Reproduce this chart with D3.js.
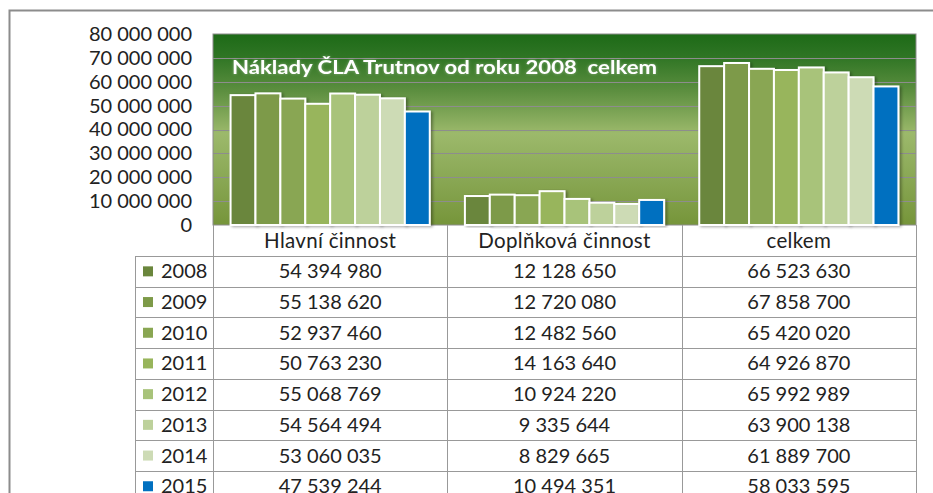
<!DOCTYPE html>
<html>
<head>
<meta charset="utf-8">
<script src="https://cdn.jsdelivr.net/npm/d3@7"></script>
<style>
  body { margin: 0; background: #fff; }
  text { font-family: Lato, "Open Sans", sans-serif; }
</style>
</head>
<body>
<div id="chart"></div>
<script>
// chart data
var categories = ["Hlavní činnost", "Doplňková činnost", "celkem"];
var years = ["2008", "2009", "2010", "2011", "2012", "2013", "2014", "2015"];
var hlavni = [54394980, 55138620, 52937460, 50763230, 55068769, 54564494, 53060035, 47539244];
var doplnkova = [12128650, 12720080, 12482560, 14163640, 10924220, 9335644, 8829665, 10494351];
var celkem = [66523630, 67858700, 65420020, 64926870, 65992989, 63900138, 61889700, 58033595];
var yTicks = [0, 10000000, 20000000, 30000000, 40000000, 50000000, 60000000, 70000000, 80000000];
var colors = ["#6a863c", "#7d9a48", "#89a652", "#98b55b", "#a8c37a", "#bdd19b", "#cddbb5", "#0070c0"];
var title = "Náklady ČLA Trutnov od roku 2008  celkem";

var width = 933;
var height = 493;
var series = [hlavni, doplnkova, celkem];

var svg = d3.select("#chart")
    .append("svg")
    .attr("width", width)
    .attr("height", height);

var defs = svg.append("defs");
var grad = defs.append("linearGradient")
    .attr("id", "bg")
    .attr("x1", 0).attr("y1", 0).attr("x2", 0).attr("y2", 1);
grad.append("stop").attr("offset", "0%").attr("stop-color", "#1d6a17");
grad.append("stop").attr("offset", "12%").attr("stop-color", "#2f7524");
grad.append("stop").attr("offset", "30%").attr("stop-color", "#5d8f40");
grad.append("stop").attr("offset", "52%").attr("stop-color", "#9cb96b");
grad.append("stop").attr("offset", "75%").attr("stop-color", "#8aa855");
grad.append("stop").attr("offset", "100%").attr("stop-color", "#76953a");

var shadow = defs.append("filter").attr("id", "shadow")
    .attr("x", "-20%").attr("y", "-5%").attr("width", "150%").attr("height", "115%");
shadow.append("feDropShadow")
    .attr("dx", 2).attr("dy", 1).attr("stdDeviation", 1.5)
    .attr("flood-color", "#000").attr("flood-opacity", 0.35);

var glow = defs.append("filter").attr("id", "glow")
    .attr("x", "-5%").attr("y", "-30%").attr("width", "110%").attr("height", "160%");
glow.append("feDropShadow")
    .attr("dx", 0).attr("dy", 0).attr("stdDeviation", 1.5)
    .attr("flood-color", "#fff").attr("flood-opacity", 0.35);

// outer frame
svg.append("path")
    .attr("d", "M9.5," + height + "V10.5H" + width)
    .style("fill", "none")
    .style("stroke", "#8c8c8c")
    .style("stroke-width", 2);

var x0 = 213, x1 = 916;
var y = d3.scaleLinear().domain([0, 80000000]).range([225, 34]);

var xCat = d3.scaleBand()
    .domain(categories)
    .range([x0, x1])
    .paddingInner(0.15)
    .paddingOuter(0.075);

var xYear = d3.scaleBand()
    .domain(years)
    .range([0, xCat.bandwidth()]);

// plot background
svg.append("rect")
    .attr("x", x0)
    .attr("y", y(80000000))
    .attr("width", x1 - x0)
    .attr("height", y(0) - y(80000000))
    .style("fill", "url(#bg)")
    .style("stroke", "#8c8c8c")
    .style("stroke-width", 1);

// grid
svg.append("g")
    .selectAll("line")
    .data(yTicks.slice(1, -1))
    .enter().append("line")
    .attr("x1", x0)
    .attr("x2", x1)
    .attr("y1", function(d) { return Math.round(y(d)) + 0.5; })
    .attr("y2", function(d) { return Math.round(y(d)) + 0.5; })
    .style("stroke", "#8d8d8d")
    .style("stroke-width", 1);

// y axis labels
var yAxis = d3.axisLeft(y)
    .tickValues(yTicks)
    .tickSize(0)
    .tickFormat(function(d) { return d3.format(",")(d).replace(/,/g, " "); });

var yg = svg.append("g")
    .attr("transform", "translate(192,0)")
    .call(yAxis);
yg.select(".domain").remove();
yg.selectAll("text")
    .attr("x", 0)
    .style("font-size", "20px")
    .style("fill", "#222")
    .style("font-family", "Lato, sans-serif");

// title
svg.append("text")
    .attr("x", 232)
    .attr("y", 74)
    .attr("textLength", 425)
    .attr("lengthAdjust", "spacingAndGlyphs")
    .attr("filter", "url(#glow)")
    .style("font-size", "19.5px")
    .style("font-weight", "bold")
    .style("fill", "#fff")
    .style("white-space", "pre")
    .attr("xml:space", "preserve")
    .text(title);

// bars
var groups = svg.append("g")
    .selectAll("g")
    .data(categories)
    .enter().append("g")
    .attr("transform", function(d) { return "translate(" + xCat(d) + ",0)"; });

groups.selectAll("rect")
    .data(function(d, i) {
        return years.map(function(yr, j) { return { year: yr, value: series[i][j], idx: j }; });
    })
    .enter().append("rect")
    .attr("x", function(d) { return xYear(d.year); })
    .attr("y", function(d) { return y(d.value); })
    .attr("width", xYear.bandwidth())
    .attr("height", function(d) { return y(0) - y(d.value); })
    .style("fill", function(d) { return colors[d.idx]; })
    .style("stroke", "#fff")
    .style("stroke-width", 2)
    .attr("filter", "url(#shadow)");

// data table
var headerTop = 225;
var headerH = 31;
var rowH = 30.7;
var legendX = 135;
var colEdges = [x0].concat(categories.map(function(c, i) { return x0 + (x1 - x0) / 3 * (i + 1); }));
var table = svg.append("g");
var tableBottom = headerTop + headerH + rowH * years.length;

// vertical lines
colEdges.forEach(function(cx) {
    table.append("line")
        .attr("x1", Math.round(cx) + 0.5).attr("x2", Math.round(cx) + 0.5)
        .attr("y1", headerTop).attr("y2", tableBottom)
        .style("stroke", "#999").style("stroke-width", 1);
});
table.append("line")
    .attr("x1", legendX + 0.5).attr("x2", legendX + 0.5)
    .attr("y1", headerTop + headerH).attr("y2", tableBottom)
    .style("stroke", "#999").style("stroke-width", 1);

// horizontal lines
d3.range(years.length + 1).forEach(function(i) {
    var ly = Math.round(headerTop + headerH + rowH * i) + 0.5;
    table.append("line")
        .attr("x1", legendX).attr("x2", x1 + 0.5)
        .attr("y1", ly).attr("y2", ly)
        .style("stroke", "#999").style("stroke-width", 1);
});

// header text
table.selectAll("text.head")
    .data(categories)
    .enter().append("text")
    .attr("class", "head")
    .attr("x", function(d) { return xCat(d) + xCat.bandwidth() / 2; })
    .attr("y", headerTop + headerH / 2)
    .attr("dy", "0.35em")
    .attr("text-anchor", "middle")
    .style("font-size", "20.5px")
    .style("letter-spacing", "0.3px")
    .style("fill", "#222")
    .text(function(d) { return d; });

var fmt = function(v) { return d3.format(",")(v).replace(/,/g, " "); };

years.forEach(function(yr, j) {
    var cy = headerTop + headerH + rowH * j + rowH / 2;
    table.append("rect")
        .attr("x", 143).attr("y", cy - 5)
        .attr("width", 10).attr("height", 10)
        .style("fill", colors[j]);
    table.append("text")
        .attr("x", 161).attr("y", cy)
        .attr("dy", "0.35em")
        .style("font-size", "20px")
        .style("fill", "#222")
        .text(yr);
    categories.forEach(function(c, i) {
        table.append("text")
            .attr("x", xCat(c) + xCat.bandwidth() / 2)
            .attr("y", cy)
            .attr("dy", "0.35em")
            .attr("text-anchor", "middle")
            .style("font-size", "20px")
            .style("fill", "#222")
            .text(fmt(series[i][j]));
    });
});
</script>
</body>
</html>
